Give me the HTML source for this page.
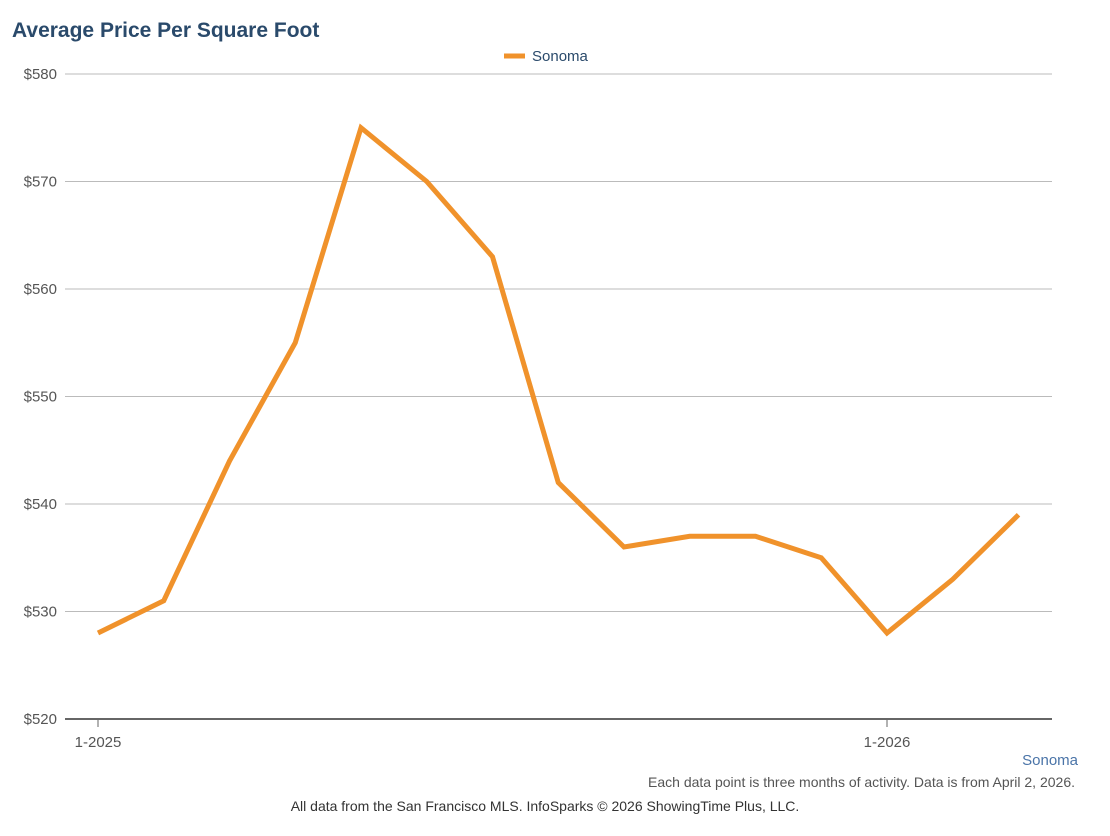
<!DOCTYPE html>
<html><head><meta charset="utf-8"><style>
body{margin:0;background:#fff;font-family:"Liberation Sans",sans-serif;}
</style></head><body>
<svg width="1110" height="831" xmlns="http://www.w3.org/2000/svg">
<text x="12" y="37" font-size="21" font-weight="bold" fill="#2a4a6b">Average Price Per Square Foot</text>
<g>
<line x1="504" y1="56" x2="525" y2="56" stroke="#f0922b" stroke-width="5"/>
<text x="532" y="61" font-size="15" fill="#2a4a6b">Sonoma</text>
</g>
<g id="grid"></g>
<g id="xt"></g>
<path id="line" fill="none" stroke="#f0922b" stroke-width="5" stroke-linejoin="miter"/>
<text x="1078" y="765" font-size="15" text-anchor="end" fill="#4a74a8">Sonoma</text>
<text x="1075" y="787" font-size="14" text-anchor="end" fill="#555">Each data point is three months of activity. Data is from April 2, 2026.</text>
<text x="545" y="811" font-size="14" text-anchor="middle" fill="#333">All data from the San Francisco MLS. InfoSparks © 2026 ShowingTime Plus, LLC.</text>
</svg>
<script>
const values=[528,531,544,555,575,570,563,542,536,537,537,535,528,533,539];
const yTicks=[520,530,540,550,560,570,580];
const yTickLabels=["$520","$530","$540","$550","$560","$570","$580"];
const xTickIdx=[0,12];
const xTickLabels=["1-2025","1-2026"];
const NS="http://www.w3.org/2000/svg";
const y=v=>719-(v-520)*645/60;
const x=i=>98+i*789/12;
const grid=document.getElementById('grid');
yTicks.forEach((t,k)=>{
 const l=document.createElementNS(NS,'line');
 l.setAttribute('x1',65);l.setAttribute('x2',1052);l.setAttribute('y1',y(t));l.setAttribute('y2',y(t));
 l.setAttribute('stroke',k==0?'#666':'#bbb');l.setAttribute('stroke-width',k==0?2:1);
 
 
 grid.appendChild(l);
 const tx=document.createElementNS(NS,'text');
 tx.setAttribute('x',57);tx.setAttribute('y',y(t)+5);tx.setAttribute('text-anchor','end');
 tx.setAttribute('font-size','15');tx.setAttribute('fill','#555');tx.textContent=yTickLabels[k];
 
 
 grid.appendChild(tx);
});
const xt=document.getElementById('xt');
xTickIdx.forEach((i,k)=>{
 const l=document.createElementNS(NS,'line');
 l.setAttribute('x1',x(i));l.setAttribute('x2',x(i));l.setAttribute('y1',719);l.setAttribute('y2',727);
 l.setAttribute('stroke','#666');
 
 
 xt.appendChild(l);
 const tx=document.createElementNS(NS,'text');
 tx.setAttribute('x',x(i));tx.setAttribute('y',747);tx.setAttribute('text-anchor','middle');
 tx.setAttribute('font-size','15');tx.setAttribute('fill','#555');tx.textContent=xTickLabels[k];
 
 
 xt.appendChild(tx);
});
document.getElementById('line').setAttribute('d',values.map((v,i)=>(i?'L':'M')+x(i)+','+y(v)).join(' '));
</script>
</body></html>
